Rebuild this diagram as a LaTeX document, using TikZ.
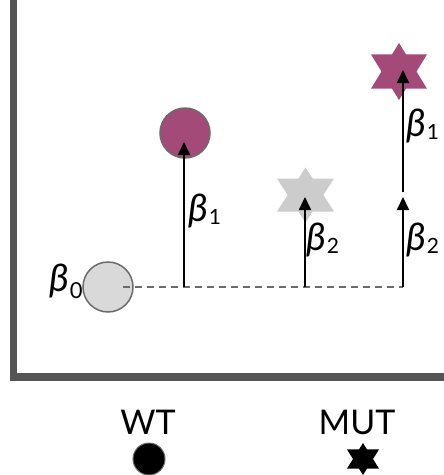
\documentclass[tikz,border=0pt]{standalone}
\usepackage{fontspec}
\setmainfont{Lato}
\usetikzlibrary{arrows.meta}
\definecolor{axisgray}{HTML}{555555}
\definecolor{magenta}{HTML}{A34A78}
\definecolor{lightg}{HTML}{D9D9D9}
\definecolor{stargray}{HTML}{CCCCCC}
\definecolor{edgegray}{HTML}{6B6B6B}
\tikzset{
  blob/.style={circle, draw=edgegray, line width=1.5pt, inner sep=0pt, minimum size=50pt},
  effect/.style={line width=2pt, -{Triangle[length=13pt,width=12pt]}},
  base/.style={draw=edgegray, dashed, line width=1.5pt, dash pattern=on 7pt off 5pt},
  lab/.style={anchor=base west, inner sep=0pt, font=\fontsize{38}{38}\selectfont},
  legend/.style={font=\fontsize{34}{34}\selectfont, inner sep=0pt}
}
\newcommand{\hexstar}[5]{% x y halfw halfh edge
  \fill[#5] (#1,#2-#4) -- (#1+#3,#2+#4*0.6) -- (#1-#3,#2+#4*0.6) -- cycle;
  \fill[#5] (#1,#2+#4) -- (#1+#3,#2-#4*0.6) -- (#1-#3,#2-#4*0.6) -- cycle;
}
\newcommand{\bsub}[1]{\textit{β}\hspace{1pt}\raisebox{-3pt}{\fontsize{21}{21}\selectfont #1}}
\begin{document}
\begin{tikzpicture}[x=1pt,y=-1pt]
\useasboundingbox (0,0) rectangle (444,475);
% axes
\fill[axisgray] (10,0) rectangle (17,381);
\fill[axisgray] (10,373) rectangle (444,381);
% baseline
\node[blob, fill=lightg] (b0) at (108,287) {};
\coordinate (dend) at (403,287);
\draw[base] (b0.center) ++(15,0) coordinate (dstart) -- (dend);
% WT circle
\node[blob, fill=magenta] (wt) at (185,133) {};
\coordinate (wtbase) at (184,287);
\coordinate (wttip) at (184,142);
\draw[effect] (wtbase) -- (wttip);
% gray star
\hexstar{305.5}{195}{28.5}{27.5}{stargray}
\coordinate (gsbase) at (305,287);
\coordinate (gstip) at (305,197);
\draw[effect] (gsbase) -- (gstip);
% magenta star
\hexstar{399}{71.5}{28}{28.5}{magenta}
\coordinate (msbase) at (403,287);
\coordinate (msmid) at (403,197);
\coordinate (msmid2) at (403,192);
\coordinate (mstip) at (403,70);
\draw[effect] (msbase) -- (msmid);
\draw[effect] (msmid2) -- (mstip);
% labels
\node[lab] (l0) at (49,291) {\textit{β}\hspace{1pt}\raisebox{-7pt}{\fontsize{22}{22}\selectfont 0}};
\node[lab] (l1) at (188,221) {\bsub{1}};
\node[lab] (l2) at (306,250) {\bsub{2}};
\node[lab] (l3) at (406,136) {\bsub{1}};
\node[lab] (l4) at (406,250) {\bsub{2}};
% legend
\node[legend] (wtl) at (148,422) {WT};
\node[legend] (mutl) at (357,422) {MUT};
\node[circle, fill=black, draw=edgegray, line width=1pt, minimum size=32pt, inner sep=0pt] (wtsym) at (149,459) {};
\hexstar{363}{459}{16}{16}{black}
\end{tikzpicture}
\end{document}
